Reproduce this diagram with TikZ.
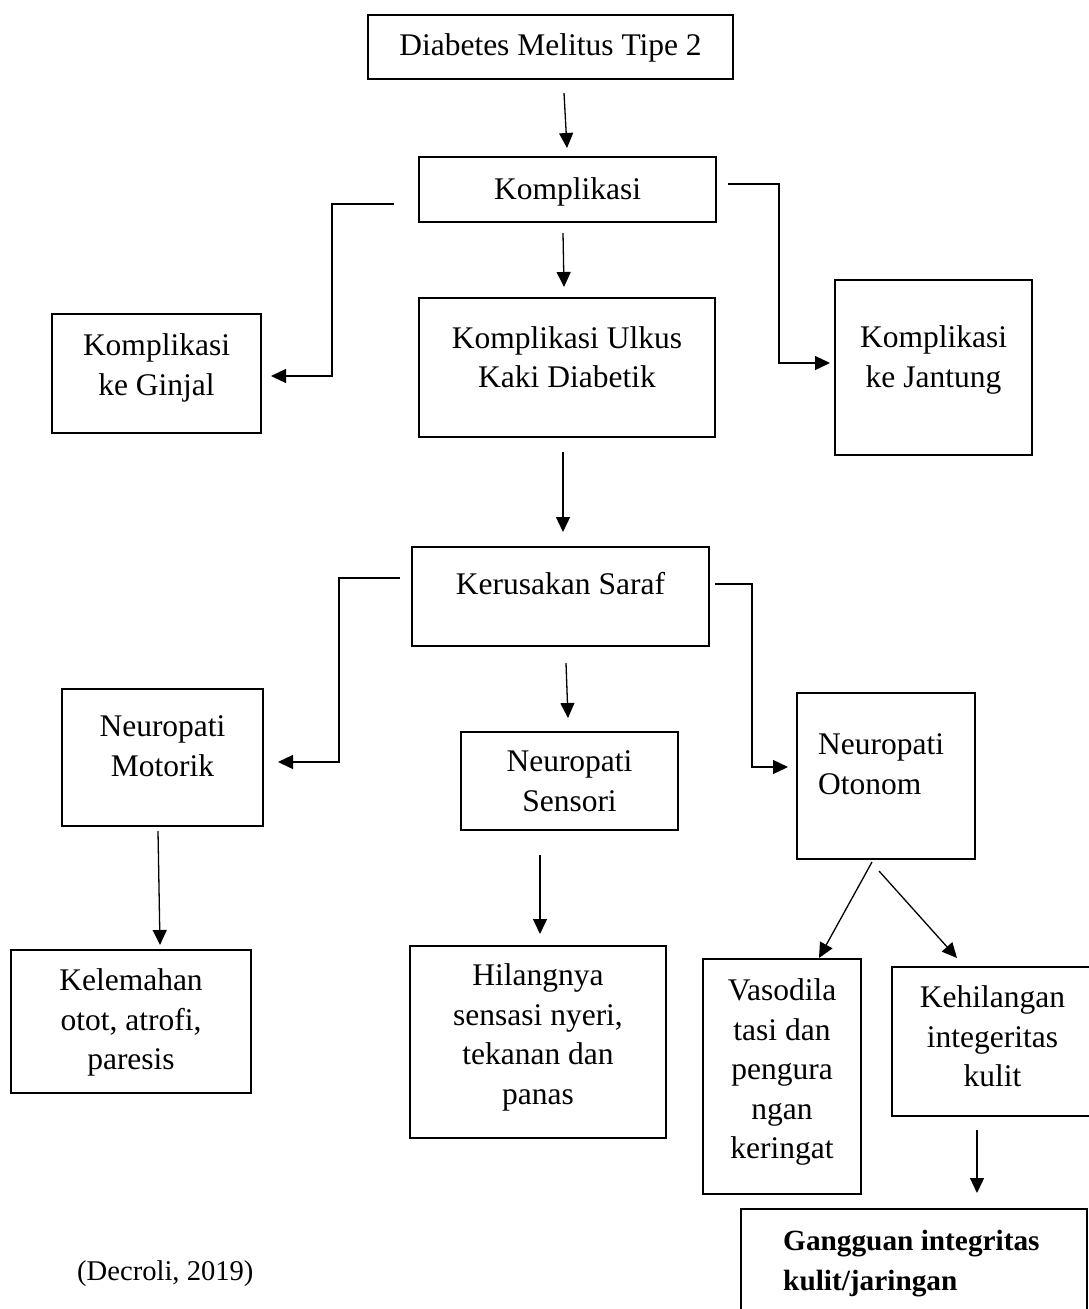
\documentclass[tikz,border=0pt]{standalone}
\usepackage{fontspec}
\setmainfont{Liberation Serif}
\usetikzlibrary{arrows.meta}
\tikzset{
  box/.style={draw, rectangle, line width=2.7pt, inner sep=0pt, outer sep=0pt},
  lbl/.style={font=\fontsize{31.5}{39.5}\selectfont, align=center, inner sep=0pt, anchor=north},
  arr/.style={line width=1.3pt, -{Triangle[length=15pt,width=14pt]}},
}
\begin{document}
\begin{tikzpicture}[x=1pt,y=-1pt]
\useasboundingbox (0,0) rectangle (1088,1309);

\node[box, minimum width=365pt, minimum height=64pt,
  label={[lbl,yshift=-18.5pt]north:{Diabetes Melitus Tipe 2}}] (dm) at (550.5,47) {};
\node[box, minimum width=297pt, minimum height=65pt,
  label={[lbl,yshift=-20.5pt]north:{Komplikasi}}] (k) at (567.5,189.5) {};
\node[box, minimum width=209pt, minimum height=119pt,
  label={[lbl,yshift=-19.5pt]north:{Komplikasi\\ke Ginjal}}] (gin) at (156.5,373.5) {};
\node[box, minimum width=296pt, minimum height=139pt,
  label={[lbl,yshift=-28pt]north:{Komplikasi Ulkus\\Kaki Diabetik}}] (ulk) at (567,367.5) {};
\node[box, minimum width=197pt, minimum height=175pt,
  label={[lbl,yshift=-45.5pt]north:{Komplikasi\\ke Jantung}}] (jan) at (933.5,367.5) {};
\node[box, minimum width=297pt, minimum height=99pt,
  label={[lbl,yshift=-25.5pt]north:{Kerusakan Saraf}}] (ker) at (560.5,596.5) {};
\node[box, minimum width=201pt, minimum height=137pt,
  label={[lbl,yshift=-26.5pt]north:{Neuropati\\Motorik}}] (mot) at (162.5,757.5) {};
\node[box, minimum width=217pt, minimum height=98pt,
  label={[lbl,yshift=-18.5pt]north:{Neuropati\\Sensori}}] (sen) at (569.5,781) {};
\node[box, minimum width=178pt, minimum height=166pt,
  label={[lbl,align=left,anchor=north west,xshift=21pt,yshift=-40.5pt]north west:{Neuropati\\Otonom}}] (oto) at (886,776) {};
\node[box, minimum width=240pt, minimum height=143pt,
  label={[lbl,yshift=-18.5pt]north:{Kelemahan\\otot, atrofi,\\paresis}}] (kel) at (131,1021.5) {};
\node[box, minimum width=256pt, minimum height=192pt,
  label={[lbl,yshift=-17.5pt]north:{Hilangnya\\sensasi nyeri,\\tekanan dan\\panas}}] (hil) at (538,1042) {};
\node[box, minimum width=158pt, minimum height=235pt,
  label={[lbl,yshift=-19.5pt]north:{Vasodila\\tasi dan\\pengura\\ngan\\keringat}}] (vas) at (782,1076.5) {};
\node[box, minimum width=201pt, minimum height=149pt,
  label={[lbl,yshift=-18.5pt]north:{Kehilangan\\integeritas\\kulit}}] (keh) at (992.5,1041.5) {};
\node[box, minimum width=346pt, minimum height=126pt,
  label={[lbl,font=\fontsize{29.3}{40}\selectfont\bfseries,align=left,anchor=north west,xshift=42pt,yshift=-21pt]north west:{Gangguan integritas\\kulit/jaringan}}] (gan) at (914,1272) {};

\node[font=\fontsize{28.6}{34}\selectfont, anchor=base west, inner sep=0pt] (src) at (77,1280) {(Decroli, 2019)};

\draw[arr] ([xshift=13.5pt,yshift=-14pt]dm.south) -- ([xshift=-0.5pt,yshift=9pt]k.north);
\draw[arr] ([xshift=-4.5pt,yshift=-11pt]k.south) -- ([xshift=-3pt,yshift=11pt]ulk.north);
\draw[arr] ([xshift=-25pt,yshift=-14.5pt]k.west) -- ++(-62,0) |- ([xshift=10pt,yshift=-2.5pt]gin.east);
\draw[arr] ([xshift=12pt,yshift=5.5pt]k.east) -- ++(51,0) |- ([xshift=-5pt,yshift=4.5pt]jan.west);
\draw[arr] ([xshift=-4pt,yshift=-15pt]ulk.south) -- ([xshift=2.5pt,yshift=15pt]ker.north);
\draw[arr] ([xshift=-12pt,yshift=18.5pt]ker.west) -- ++(-61,0) |- ([xshift=15pt,yshift=-4.5pt]mot.east);
\draw[arr] ([xshift=6pt,yshift=12.5pt]ker.east) -- ++(37,0) |- ([xshift=-9pt,yshift=9pt]oto.west);
\draw[arr] ([xshift=5.5pt,yshift=-17pt]ker.south) -- ([xshift=-1.5pt,yshift=14pt]sen.north);
\draw[arr] ([xshift=-4.5pt,yshift=-5pt]mot.south) -- ([xshift=29pt,yshift=5pt]kel.north);
\draw[arr] ([xshift=-29.5pt,yshift=-25pt]sen.south) -- ([xshift=2pt,yshift=12pt]hil.north);
\draw[arr] ([xshift=-14pt,yshift=-3pt]oto.south) -- ([xshift=37pt,yshift=1pt]vas.north);
\draw[arr] ([xshift=-7pt,yshift=-12pt]oto.south) -- ([xshift=-35.5pt,yshift=9pt]keh.north);
\draw[arr] ([xshift=-15.5pt,yshift=-14pt]keh.south) -- ([xshift=63pt,yshift=16pt]gan.north);
\end{tikzpicture}
\end{document}
